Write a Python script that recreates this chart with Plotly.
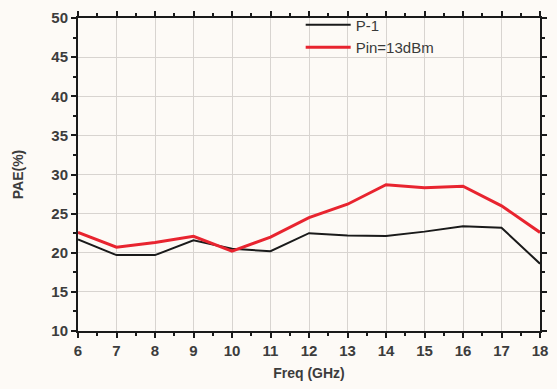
import plotly.graph_objects as go

# Frequency sweep (GHz) and power-added efficiency (%)
freq = [6, 7, 8, 9, 10, 11, 12, 13, 14, 15, 16, 17, 18]
pae_p1 = [21.7, 19.7, 19.7, 21.6, 20.5, 20.2, 22.5, 22.2, 22.15, 22.7, 23.4, 23.2, 18.6]
pae_pin13 = [22.6, 20.7, 21.3, 22.1, 20.2, 22.0, 24.5, 26.2, 28.7, 28.3, 28.5, 26.0, 22.6]

series_names = ["P-1", "Pin=13dBm"]
x_ticks = list(range(6, 19))
y_ticks = list(range(10, 51, 5))

fig = go.Figure()
fig.add_trace(go.Scatter(x=freq, y=pae_p1, mode="lines", name=series_names[0],
                         line=dict(color="#1a1a1a", width=2)))
fig.add_trace(go.Scatter(x=freq, y=pae_pin13, mode="lines", name=series_names[1],
                         line=dict(color="#e8242f", width=3)))

tick_font = dict(family="Liberation Sans, Arial", size=15, color="#3c3c3c", weight="bold")
title_font = dict(family="Liberation Sans, Arial", size=14, color="#3c3c3c", weight="bold")

axis_common = dict(
    showline=True, linecolor="#1a1a1a", linewidth=2, mirror="allticks",
    ticks="outside", ticklen=5, tickwidth=2, tickcolor="#1a1a1a",
    showgrid=True, gridcolor="#d8d4d0", gridwidth=1, zeroline=False,
    tickfont=tick_font,
    minor=dict(ticks="outside", ticklen=3, tickwidth=1.5, tickcolor="#1a1a1a", showgrid=False),
)

fig.update_layout(
    width=557, height=389,
    margin=dict(l=78, r=9, t=17, b=58),
    paper_bgcolor="#fdfaf6", plot_bgcolor="#fdfaf6",
    font=dict(family="Liberation Sans, Arial", color="#333333"),
    showlegend=True,
    legend=dict(x=0.482, y=1.03, xanchor="left", yanchor="top",
                bgcolor="rgba(0,0,0,0)", borderwidth=0, itemwidth=45,
                font=dict(family="Liberation Sans, Arial", size=15, color="#3a3a3a"),
                tracegroupgap=0),
    xaxis=dict(range=[6, 18], tickvals=x_ticks,
               title=dict(text="Freq (GHz)", font=title_font, standoff=10),
               **axis_common),
    yaxis=dict(range=[10, 50], tickvals=y_ticks,
               title=dict(text="PAE(%)", font=title_font, standoff=24),
               **axis_common),
)
fig.update_xaxes(minor=dict(dtick=0.5, tick0=6))
fig.update_yaxes(minor=dict(dtick=2.5, tick0=10))

fig.write_html("out.html")
